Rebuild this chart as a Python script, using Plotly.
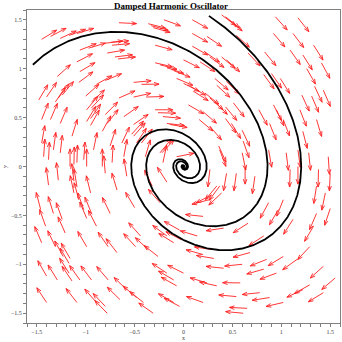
import numpy as np
import plotly.graph_objects as go
import plotly.figure_factory as ff

# Damping coefficient of x'' + b x' + x = 0
damping = 0.5

# Sample points where field arrows are drawn (arrow tails)
arrow_x = [
    -1.45, -1.36, -1.26, -1.17, -1.09, -0.66, -0.36, -0.33, -0.31, -0.20,
    -0.80, -0.74, -0.73, -1.06, -0.97, -0.29, -0.78, -1.09, -0.70, -0.67,
    -0.29, -0.24, -0.17, -0.10, -1.29, -1.06, -1.07, -0.89, -0.80, -0.51,
    -0.43, -0.07, -1.48, -1.40, -1.31, -1.28, -1.24, -1.00, -0.94, -0.66,
    -0.51, -0.38, -0.29, -0.26, -0.21, -0.99, -0.94, -1.45, -1.36, -1.26,
    -0.99, -0.95, -0.80, -0.78, -0.61, -0.51, -0.17, -1.14, -0.95, -0.83,
    -1.43, -1.38, -1.45, -1.33, -1.26, -1.16, -1.12, -1.09, -1.02, -0.99,
    -0.92, -0.83, -0.75, -0.73, -0.63, -0.61, -0.51, -0.43, -0.39, -0.24,
    0.09, 0.39, 0.43, 0.46, 0.94, 1.17, 0.09, 0.24, 0.54, 0.92,
    1.12, 1.33, 0.09, 0.22, 0.27, 0.39, 0.44, 0.00, 0.66, 0.83,
    1.09, 1.22, 1.41, 0.17, 0.00, 0.07, 0.10, 0.32, 0.34, 0.44,
    0.82, 0.90, 0.99, 1.26, 1.34, 1.43, 0.22, 0.27, 0.05, 0.20,
    0.32, 0.43, 0.51, 0.77, 0.92, 0.95, 1.21, 1.31, 1.19, 1.36,
    0.43, 0.49, 0.60, 0.61, 0.88, 1.02, 1.22, 0.36, 0.60, 0.87,
    1.05, 1.17, 1.28, 1.48,
    -1.28, -1.38, -1.12, -1.09, -0.80, -0.58, -0.68, -1.12, -1.07, -0.95,
    -1.46, -1.33, -1.24, -1.02, -0.99, -0.94, -0.75, -0.89, -1.41, -1.21,
    -1.45, -1.31, -1.23, -1.16, -1.17, -0.99, -0.77, -0.68, -0.44, -0.49,
    -0.36, -0.26, -0.17, -0.10, -0.02, -0.04, -1.40, -1.29, -1.17, -1.14,
    -1.06, -0.94, -0.77, -0.58, -0.48, -0.17, -0.10, -0.07, 0.00, -1.40,
    -1.09, -0.89, -0.80, -0.78, -0.65, -0.41, -0.31, -0.10, -0.04,
    0.44, 0.54, 0.63, 0.73, 1.09, 1.17, 1.38, 1.50, 0.37, 0.39,
    0.29, 0.26, 1.36, 1.45, 1.02, 0.87, 0.97, 1.50, 1.36, 0.20,
    0.66, 1.12, 1.33, 0.41, 0.14, 0.82, 1.29, 0.29, 0.31, 0.20,
    0.68, 0.85, 1.02, 1.16, 0.60, 0.41, 0.82, 0.95, 1.43, 1.55,
    0.24, 0.34, 0.58, 0.78, 0.88, 1.29, 1.22, 1.43, 1.02, 0.54,
    0.65, 0.61, 0.20,
    -0.53, -0.48, -0.14, 0.16, 0.27, -0.22, -0.21, -0.07, 0.37, 0.27,
    0.34, -0.17, -0.32, -0.24, -0.50,
]
arrow_y = [
    1.30, 1.33, 1.31, 1.34, 1.36, 1.47, 1.46, 1.44, 1.42, 1.50,
    1.26, 1.27, 1.24, 1.19, 1.21, 1.24, 1.16, 1.07, 1.12, 1.10,
    1.06, 1.04, 1.01, 0.98, 0.92, 0.97, 0.86, 0.84, 0.88, 0.86,
    0.84, 0.90, 0.68, 0.71, 0.66, 0.70, 0.73, 0.72, 0.66, 0.70,
    0.71, 0.71, 0.58, 0.55, 0.51, 0.58, 0.60, 0.48, 0.48, 0.44,
    0.46, 0.49, 0.53, 0.44, 0.51, 0.43, 0.44, 0.31, 0.42, 0.36,
    0.10, 0.07, 0.24, 0.17, 0.14, 0.00, 0.02, 0.04, 0.07, 0.00,
    0.17, 0.00, 0.21, 0.04, 0.24, 0.10, 0.31, 0.24, 0.10, 0.14,
    1.50, 1.55, 1.53, 1.50, 1.53, 1.52, 1.36, 1.33, 1.34, 1.36,
    1.36, 1.24, 1.23, 1.17, 1.12, 1.12, 1.09, 1.09, 1.16, 1.17,
    1.19, 1.14, 1.06, 1.07, 0.85, 0.82, 0.77, 0.90, 0.83, 0.87,
    0.94, 0.95, 0.90, 1.00, 0.82, 0.78, 0.75, 0.70, 0.63, 0.56,
    0.66, 0.61, 0.65, 0.58, 0.63, 0.58, 0.73, 0.72, 0.58, 0.48,
    0.49, 0.44, 0.37, 0.26, 0.44, 0.48, 0.36, 0.21, 0.14, 0.17,
    0.14, 0.17, 0.14, 0.10,
    -0.14, -0.19, -0.15, -0.20, -0.07, -0.10, -0.24, -0.27, -0.34, -0.27,
    -0.44, -0.48, -0.54, -0.44, -0.53, -0.48, -0.48, -0.61, -0.61, -0.68,
    -0.78, -0.82, -0.92, -0.94, -0.99, -0.82, -0.82, -0.88, -0.71, -0.82,
    -0.85, -0.92, -0.71, -0.78, -0.75, -0.65, -1.12, -1.16, -1.09, -1.17,
    -1.16, -1.16, -1.16, -1.26, -1.34, -1.09, -1.16, -1.22, -1.09, -1.39,
    -1.39, -1.39, -1.43, -1.50, -1.36, -1.39, -1.50, -1.39, -1.43,
    -0.07, -0.07, 0.00, -0.10, -0.03, 0.00, -0.03, -0.07, -0.20, -0.27,
    -0.29, -0.34, -0.20, -0.27, -0.34, -0.37, -0.44, -0.43, -0.48, -0.51,
    -0.58, -0.54, -0.61, -0.63, -0.71, -0.71, -0.82, -0.85, -0.94, -0.90,
    -0.88, -0.95, -0.92, -0.95, -1.00, -1.04, -1.05, -1.09, -1.02, -1.14,
    -1.19, -1.22, -1.19, -1.29, -1.34, -1.21, -1.26, -1.29, -1.39, -1.33,
    -1.45, -1.50, -1.39,
    0.33, 0.24, 0.43, 0.48, 0.41, 0.14, 0.04, 0.10, 0.17, -0.03,
    -0.20, -0.16, -0.20, -0.37, -0.42,
]

# Starting states of the two plotted trajectories
start_x = [-1.54, 0.26]
start_y = [1.04, 1.54]
t_end = 30.0

axis_ticks = [-1.5, -1.0, -0.5, 0.0, 0.5, 1.0, 1.5]
axis_ticktext = ["\u22121.5", "\u22121", "\u22120.5", "0", "0.5", "1", "1.5"]


def field(x, y):
    """Phase-space velocity of the damped oscillator."""
    return y, -x - damping * y


def integrate(x0, y0, t_end, dt=0.01):
    xs, ys = [x0], [y0]
    x, y = x0, y0
    for _ in range(int(t_end / dt)):
        k1 = field(x, y)
        k2 = field(x + 0.5 * dt * k1[0], y + 0.5 * dt * k1[1])
        k3 = field(x + 0.5 * dt * k2[0], y + 0.5 * dt * k2[1])
        k4 = field(x + dt * k3[0], y + dt * k3[1])
        x += dt / 6 * (k1[0] + 2 * k2[0] + 2 * k3[0] + k4[0])
        y += dt / 6 * (k1[1] + 2 * k2[1] + 2 * k3[1] + k4[1])
        xs.append(x)
        ys.append(y)
    return xs, ys


ax = np.array(arrow_x)
ay = np.array(arrow_y)
u, v = field(ax, ay)
norm = np.hypot(u, v)
arrow_len = 0.18
u = u / norm * arrow_len
v = v / norm * arrow_len

fig = ff.create_quiver(ax, ay, u, v, scale=1.0, arrow_scale=0.3,
                       angle=np.pi / 9, line=dict(color="#ff2020", width=0.9))
fig.update_traces(hoverinfo="skip", showlegend=False)

for x0, y0 in zip(start_x, start_y):
    tx, ty = integrate(x0, y0, t_end)
    fig.add_trace(go.Scatter(x=tx, y=ty, mode="lines",
                             line=dict(color="black", width=1.8),
                             hoverinfo="skip", showlegend=False))

axis_common = dict(
    showgrid=False, zeroline=False,
    showline=True, mirror=True, linecolor="#7f7f7f", linewidth=1,
    ticks="outside", ticklen=3, tickcolor="#7f7f7f", tickwidth=1,
    tickvals=axis_ticks, ticktext=axis_ticktext,
    tickfont=dict(family="Liberation Serif", size=6, color="#444444"),
    minor=dict(dtick=0.1, tick0=0, ticks="outside", ticklen=3,
               tickcolor="#7f7f7f", tickwidth=1),
    range=[-1.6, 1.6],
)

fig.update_layout(
    width=342, height=342,
    margin=dict(l=27, r=2, t=10, b=19),
    paper_bgcolor="white", plot_bgcolor="white",
    showlegend=False,
    title=dict(text="<b>Damped Harmonic Oscillator</b>",
               font=dict(family="Liberation Serif", size=9, color="black"),
               x=0.5, xref="container", xanchor="center",
               y=1 - 5.5 / 342, yref="container", yanchor="middle"),
    xaxis=dict(**axis_common,
               title=dict(text="x", standoff=0,
                          font=dict(family="Liberation Serif", size=6, color="#444444"))),
    yaxis=dict(**axis_common,
               title=dict(text="y", standoff=2,
                          font=dict(family="Liberation Serif", size=6, color="#444444"))),
)

fig.write_html("out.html")
